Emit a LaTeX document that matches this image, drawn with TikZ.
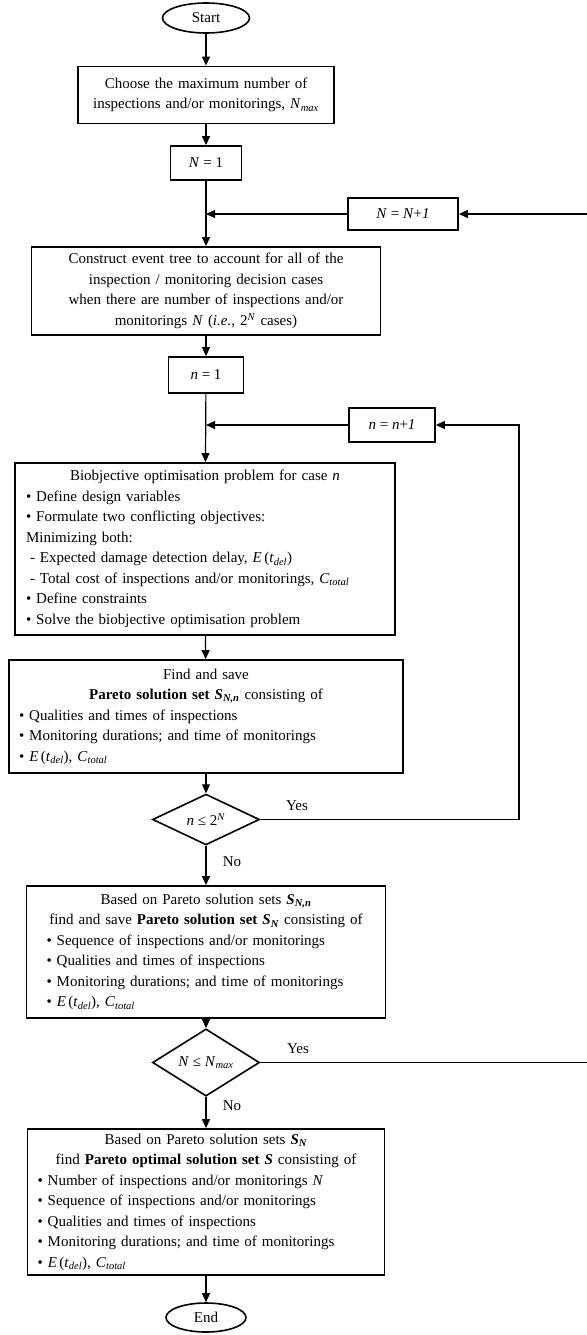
\documentclass[tikz,border=0pt]{standalone}
\usepackage{fontspec}
\setmainfont{Liberation Serif}
\usetikzlibrary{arrows.meta,shapes.geometric}
\newcommand{\myE}{\textit{E}\,(\textit{t}\textsubscript{\textit{del}})}
\newcommand{\myC}{\textit{C}\textsubscript{\textit{total}}}
\newcommand{\cl}[1]{\makebox[\hsize][c]{#1}}
\newcommand{\bS}[1]{\textbf{\textit{S}}\textsubscript{\textbf{\textit{#1}}}}
\begin{document}
\begin{tikzpicture}[x=1pt,y=-1pt,
  txt/.style={font=\fontsize{15}{20.5}\selectfont},
  box/.style={txt, draw, line width=1.8pt, inner ysep=0pt, rectangle},
  cbox/.style={box, align=center},
  lbox/.style={box, align=left},
  term/.style={txt, draw, ellipse, line width=1.6pt, inner sep=0pt},
  dec/.style={txt, draw, diamond, line width=1.6pt, inner sep=0pt, minimum width=107, minimum height=45},
  lbl/.style={txt, inner sep=1pt},
  arr/.style={line width=1.2pt, -{Triangle[length=9pt,width=8pt]}},
  ln/.style={line width=1.2pt}]
\fill[white] (0,0) rectangle (586,1335);
\useasboundingbox (0,0) rectangle (586,1335);

\node[term, minimum width=87, minimum height=30] (start) at (206,18) {Start};

\node[cbox, minimum width=256, minimum height=57, text width=240, inner xsep=8pt] (b1) at (206,95)
  {Choose the maximum number of\\inspections and/or monitorings, \textit{N}\textsubscript{\textit{max}}};

\node[cbox, minimum width=71, minimum height=34] (N1) at (206,163) {\textit{N} = 1};

\node[cbox, minimum width=110, minimum height=32] (NN) at (403,214) {\textit{N} = \textit{N}+\textit{1}};

\node[cbox, minimum width=349, minimum height=88, text width=335, inner xsep=7pt] (b2) at (206,291)
  {Construct event tree to account for all of the\\
   inspection / monitoring decision cases\\
   when there are number of inspections and/or\\
   monitorings \textit{N} (\textit{i.e.}, 2\textsuperscript{\textit{N}} cases)};

\node[cbox, minimum width=75, minimum height=36] (n1) at (206,375) {\textit{n} = 1};

\node[cbox, minimum width=86, minimum height=34] (nn) at (392,425) {\textit{n} = \textit{n}+\textit{1}};

\node[lbox, minimum width=380, minimum height=172, text width=358, inner xsep=11pt] (b3) at (205,549)
  {\cl{Biobjective optimisation problem for case \textit{n}}\\
   • Define design variables\\
   • Formulate two conflicting objectives:\\
   Minimizing both:\\
   \hspace{4pt}- Expected damage detection delay, \myE\\
   \hspace{4pt}- Total cost of inspections and/or monitorings, \myC\\
   • Define constraints\\
   • Solve the biobjective optimisation problem};

\node[lbox, minimum width=394, minimum height=113, text width=374, inner xsep=10pt] (b4) at (206,716.5)
  {\cl{Find and save}\\
   \cl{\textbf{Pareto solution set \bS{N,n}} consisting of}\\
   • Qualities and times of inspections\\
   • Monitoring durations; and time of monitorings\\
   • \myE, \myC};

\node[dec] (d1) at (206,819.5) {\textit{n} ≤ 2\textsuperscript{\textit{N}}};

\node[lbox, minimum width=359, minimum height=132, text width=319, inner xsep=20pt] (b5) at (206,952)
  {\cl{Based on Pareto solution sets \bS{N,n}}\\
   \cl{find and save \textbf{Pareto solution set \bS{N}} consisting of}\\
   • Sequence of inspections and/or monitorings\\
   • Qualities and times of inspections\\
   • Monitoring durations; and time of monitorings\\
   • \myE, \myC};

\node[dec] (d2) at (206,1062.5) {\textit{N} ≤ \textit{N}\textsubscript{\textit{max}}};

\node[lbox, minimum width=357, minimum height=146, text width=337, inner xsep=10pt] (b6) at (206,1202)
  {\cl{Based on Pareto solution sets \bS{N}}\\
   \cl{find \textbf{Pareto optimal solution set \textit{S}} consisting of}\\
   • Number of inspections and/or monitorings \textit{N}\\
   • Sequence of inspections and/or monitorings\\
   • Qualities and times of inspections\\
   • Monitoring durations; and time of monitorings\\
   • \myE, \myC};

\node[term, minimum width=80, minimum height=29] (end) at (206,1317.5) {End};

\coordinate (rin) at (519,0);
\coordinate (rout) at (592,0);

\draw[arr] (start) -- (b1);
\draw[arr] (b1) -- (N1);
\draw[arr] (N1) -- (b2);
\draw[arr] (NN.west) -- (NN.west -| N1.south);
\draw[arr] (b2) -- (n1);
\draw[arr] (n1) -- (b3);
\draw[arr] (nn.west) -- (nn.west -| n1.south);
\draw[arr] (b3) -- (b4);
\draw[arr] (b4) -- (d1);
\draw[arr] (d1) -- (b5);
\draw[arr] (b5) -- (d2);
\draw[arr] (d2) -- (b6);
\draw[arr] (b6) -- (end);
\draw[arr] (d1.east) -- (d1.east -| rin) |- (nn.east);
\draw[arr] (d2.east) -- (d2.east -| rout) |- (NN.east);

\node[lbl] (yes1) at (297,806) {Yes};
\node[lbl] (no1) at (232,862) {No};
\node[lbl] (yes2) at (298,1049) {Yes};
\node[lbl] (no2) at (232,1106) {No};
\end{tikzpicture}
\end{document}
